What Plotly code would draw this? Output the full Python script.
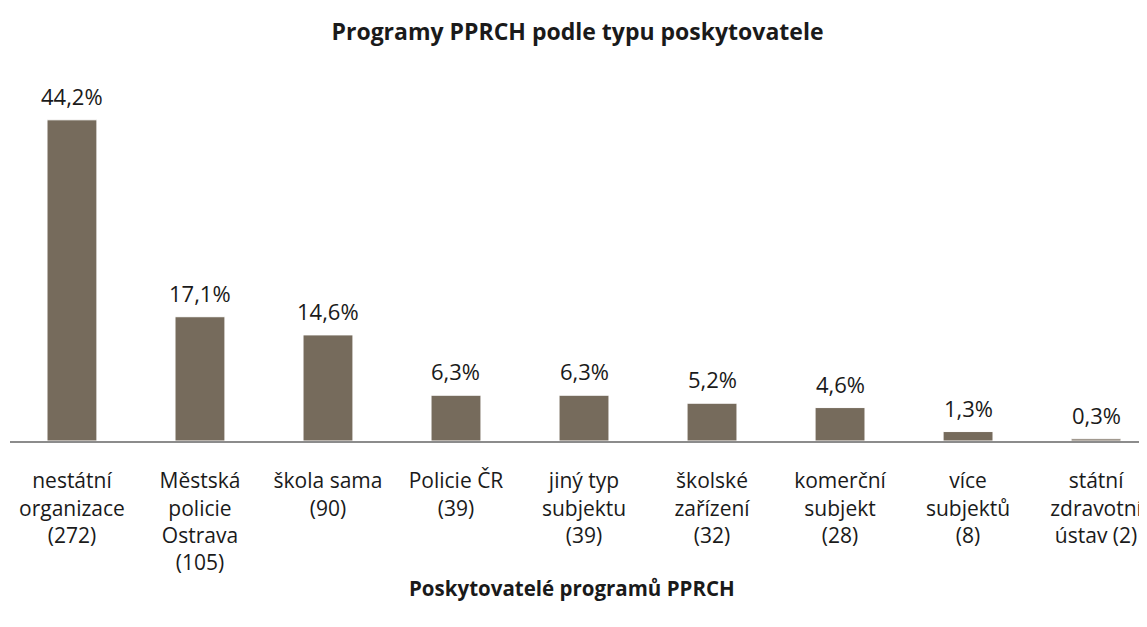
import plotly.graph_objects as go

categories = [
    "nestátní<br>organizace<br>(272)",
    "Městská<br>policie<br>Ostrava<br>(105)",
    "škola sama<br>(90)",
    "Policie ČR<br>(39)",
    "jiný typ<br>subjektu<br>(39)",
    "školské<br>zařízení<br>(32)",
    "komerční<br>subjekt<br>(28)",
    "více<br>subjektů<br>(8)",
    "státní<br>zdravotní<br>ústav (2)",
]
values = [44.2, 17.1, 14.6, 6.3, 6.3, 5.2, 4.6, 1.3, 0.3]
labels = ["44,2%", "17,1%", "14,6%", "6,3%", "6,3%", "5,2%", "4,6%", "1,3%", "0,3%"]

FONT = "'Open Sans', Lato, sans-serif"
xs = list(range(len(categories)))

fig = go.Figure()
fig.add_trace(go.Bar(
    x=xs,
    y=values,
    width=0.39,
    marker=dict(color="#766B5C", line=dict(color="#ffffff", width=1)),
    hoverinfo="skip",
))

annotations = [
    dict(x=x, y=v, text=t, xref="x", yref="y", showarrow=False,
         xanchor="center", yanchor="bottom", yshift=7,
         font=dict(size=22, color="#1a1a1a", family=FONT))
    for x, v, t in zip(xs, values, labels)
]
annotations.append(dict(
    text="<b>Poskytovatelé programů PPRCH</b>",
    xref="paper", yref="paper", x=0.494, y=-0.419,
    xanchor="center", yanchor="middle", showarrow=False,
    font=dict(size=20.5, color="#1a1a1a", family=FONT),
))

fig.update_layout(
    width=1139, height=619,
    margin=dict(l=2, r=0, t=82, b=186),
    paper_bgcolor="white", plot_bgcolor="white",
    showlegend=False,
    title=dict(text="<b>Programy PPRCH podle typu poskytovatele</b>",
               x=0.5, xanchor="center", y=0.961, yanchor="middle",
               font=dict(size=23, color="#1a1a1a", family=FONT)),
    xaxis=dict(
        tickmode="array", tickvals=xs, ticktext=categories,
        range=[-0.484, 8.398],
        showgrid=False, zeroline=False,
        showline=True, linecolor="#8c8c8c", linewidth=2,
        ticks="", tickfont=dict(size=21, color="#1a1a1a", family=FONT),
        ticklabelstandoff=20,
    ),
    yaxis=dict(range=[0, 48.3], visible=False),
    annotations=annotations,
)

fig.write_html("out.html")
